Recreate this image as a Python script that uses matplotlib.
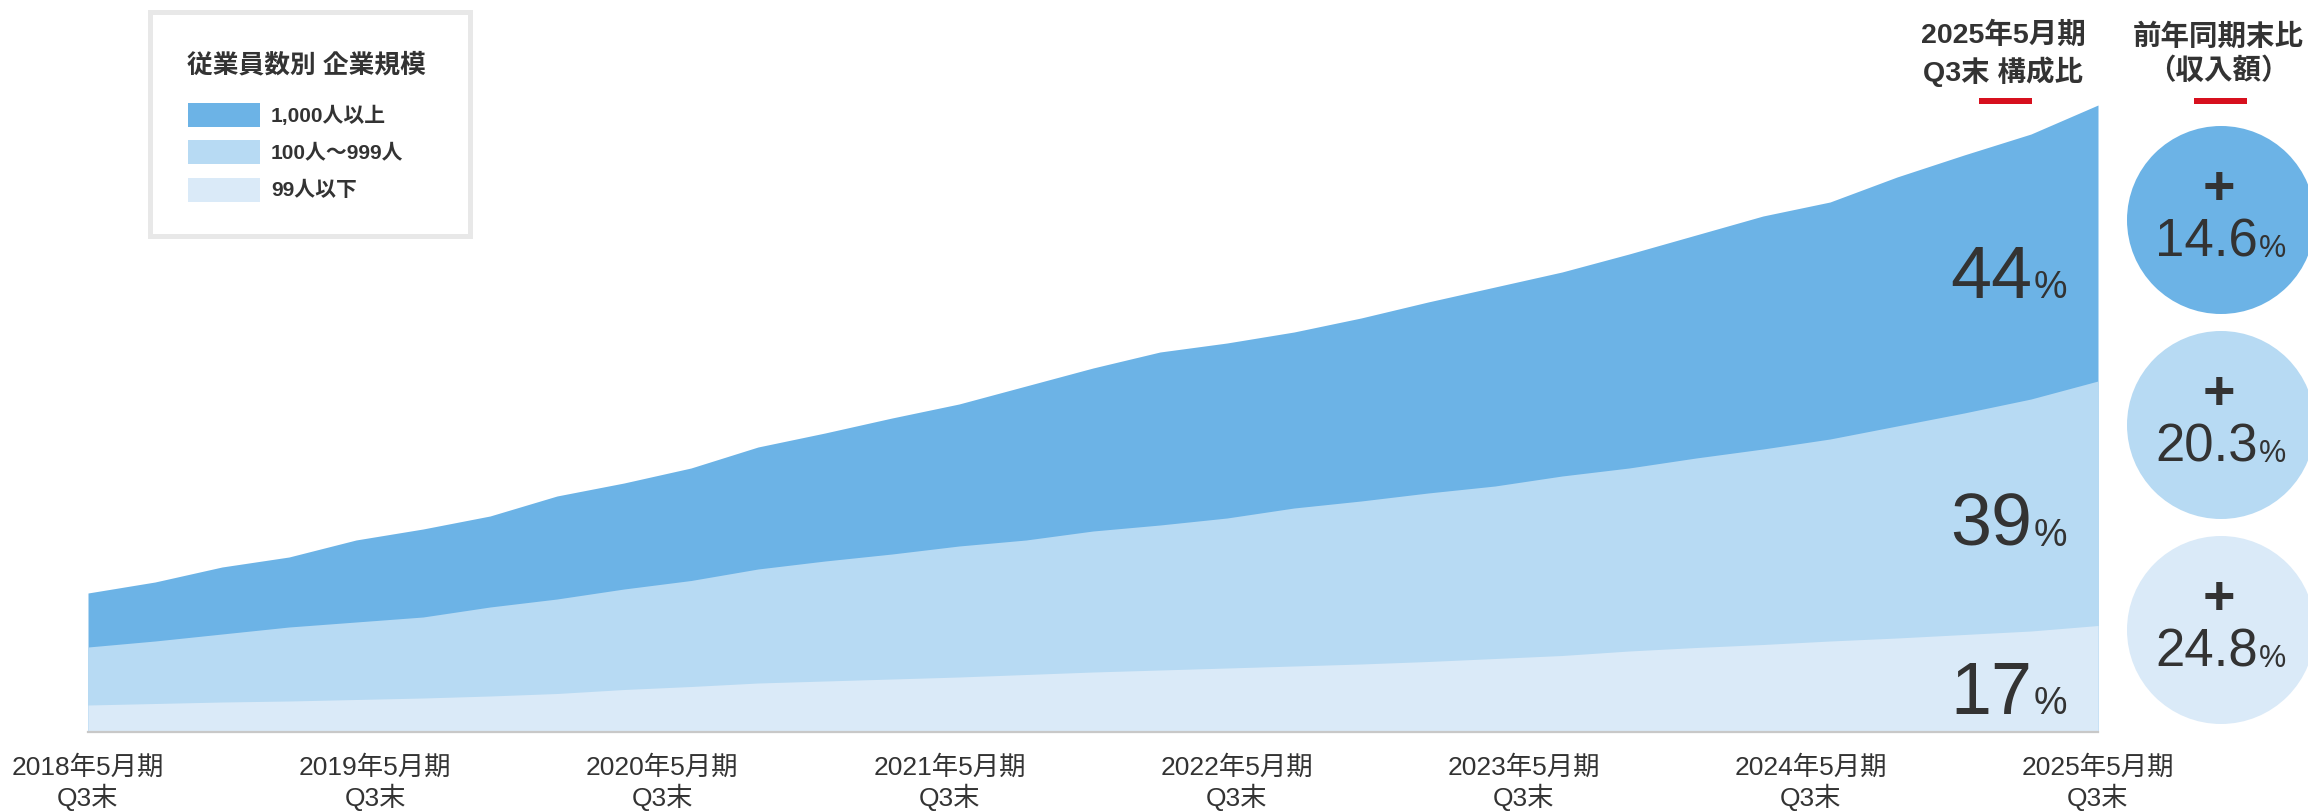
import matplotlib
matplotlib.use('Agg')
import matplotlib.pyplot as plt
from matplotlib.patches import Rectangle, Circle
import numpy as np

plt.rcParams['font.family'] = ['Liberation Sans', 'Noto Sans CJK JP']

# ---------------- data (relative revenue index, stacked) ----------------
periods = list(range(31))
large = [54, 59, 67, 70, 82, 88, 91, 103, 106, 112.5, 122, 128, 136, 142, 154, 163,
         173, 175, 176, 183, 191, 199, 204, 214, 223, 233, 237, 249, 258, 265, 276]
mid = [58, 62.5, 68, 74, 77.5, 81, 89, 94.5, 100.5, 106, 114, 120, 125, 131, 134.5, 141,
       145, 150, 158, 163, 168.5, 172.5, 179.5, 183, 189.5, 195.5, 202, 212, 221.5, 232, 244.5]
small = [27, 28.5, 30, 31, 32.5, 34, 36, 38.5, 42.5, 45.5, 49, 51, 53, 55, 57.5, 60,
         62, 64, 66, 68, 70.5, 73.5, 76.5, 81, 84.5, 87.5, 91, 94, 97.5, 101, 106.5]

years = [2018, 2019, 2020, 2021, 2022, 2023, 2024, 2025]
year_labels = [f"{y}年5月期\nQ3末" for y in years]
legend_title = "従業員数別 企業規模"
legend_labels = ["1,000人以上", "100人～999人", "99人以下"]
share_values = ["44", "39", "17"]
yoy_values = ["14.6", "20.3", "24.8"]

colors = ['#6cb3e6', '#b7daf3', '#daeaf8']
txt = '#333333'
red = '#d7101e'

W, H = 2308, 812
fig = plt.figure(figsize=(W / 100, H / 100), dpi=100)

# ---------------- main stacked area ----------------
ax = fig.add_axes([88 / W, (H - 733) / H, 2010 / W, 733 / H])
s = np.array(small)
sm = s + np.array(mid)
tot = sm + np.array(large)
ax.fill_between(periods, 0, tot, color=colors[0], linewidth=0)
ax.fill_between(periods, 0, sm, color=colors[1], linewidth=0)
ax.fill_between(periods, 0, s, color=colors[2], linewidth=0)
ax.set_xlim(0, 30)
ax.set_ylim(0, 733)
for sp in ['top', 'right', 'left']:
    ax.spines[sp].set_visible(False)
ax.spines['bottom'].set_color('#c8c8c8')
ax.spines['bottom'].set_linewidth(1.6)
ax.set_yticks([])
ax.set_xticks([k * 30 / 7 for k in range(8)])
ax.set_xticklabels(year_labels, fontsize=19, color=txt, linespacing=1.2)
ax.tick_params(axis='x', length=0, pad=16)
ax.patch.set_alpha(0)

# ---------------- overlay (pixel coordinates) ----------------
ov = fig.add_axes([0, 0, 1, 1], zorder=5)
ov.set_xlim(0, W)
ov.set_ylim(H, 0)
ov.axis('off')
ov.patch.set_alpha(0)

# legend box
ov.add_patch(Rectangle((149.5, 12.5), 320, 224, facecolor='white', edgecolor='#e8e8e8', linewidth=3.6))
ov.text(187, 65, legend_title, fontsize=18.5, weight='bold', color=txt, ha='left', va='center')
for i, (lab, c) in enumerate(zip(legend_labels, colors)):
    yc = 115.5 + i * 37.5
    ov.add_patch(Rectangle((188, yc - 12), 72, 24, facecolor=c, edgecolor='none'))
    ov.text(271, yc, lab, fontsize=15, weight='bold', color=txt, ha='left', va='center')

# headers
ov.text(2003, 54, "2025年5月期\nQ3末 構成比", fontsize=20.5, weight='bold', color=txt,
        ha='center', va='center', linespacing=1.3)
ov.text(2218, 54, "前年同期末比\n（収入額）", fontsize=20.5, weight='bold', color=txt,
        ha='center', va='center', linespacing=1.3)
ov.add_patch(Rectangle((1979, 99), 53, 6, facecolor=red, edgecolor='none'))
ov.add_patch(Rectangle((2194, 99), 53, 6, facecolor=red, edgecolor='none'))

# share labels inside chart
for val, base in zip(share_values, [298, 546, 714]):
    ov.text(2032, base, val, fontsize=53, color=txt, ha='right', va='baseline')
    ov.text(2034, base, "%", fontsize=27, color=txt, ha='left', va='baseline')

# yoy circles
for val, c, cy in zip(yoy_values, colors, [221, 426, 631]):
    ov.add_patch(Circle((2221, cy), 94, facecolor=c, edgecolor='none'))
    ov.text(2219, cy - 31, "+", fontsize=40, weight='bold', color=txt, ha='center', va='center')
    ov.text(2258, cy + 36, val, fontsize=38, color=txt, ha='right', va='baseline')
    ov.text(2259, cy + 36, "%", fontsize=22, color=txt, ha='left', va='baseline')

fig.savefig('out.png', dpi=100)
